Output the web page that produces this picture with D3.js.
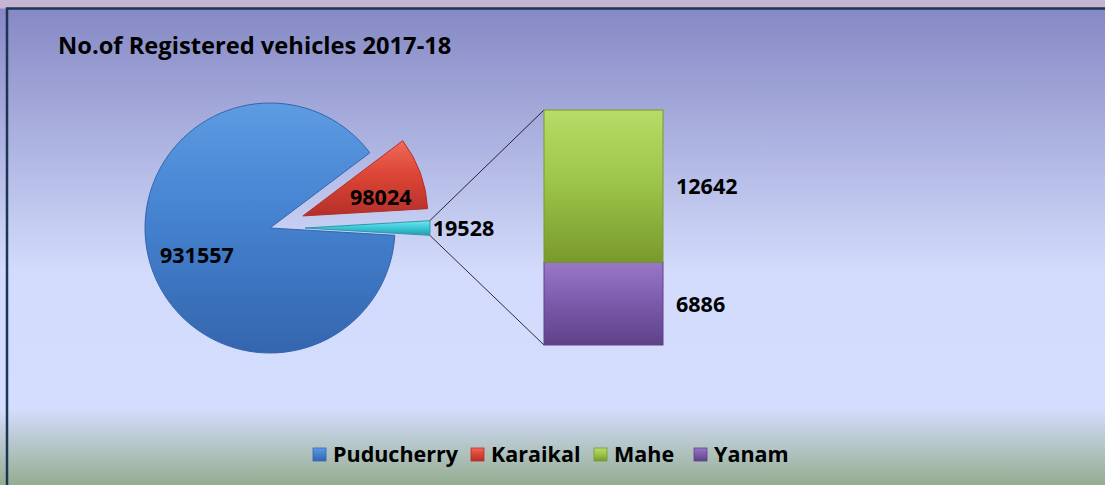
<!DOCTYPE html>
<html lang="en">
<head>
    <meta charset="UTF-8">
    <script src="https://d3js.org/d3.v7.min.js"></script>
    <title>Registered vehicles</title>
    <style>
        body { margin: 0; overflow: hidden; background: #c6b4d3; }
        text { font-family: "Open Sans", Lato, sans-serif; font-weight: bold; fill: #000; }
    </style>
</head>
<body>
<div id="chart"></div>
<script>
    // values
    const regions = ["Puducherry", "Karaikal", "Mahe", "Yanam"];
    const vehicles = [931557, 98024, 12642, 6886];
    const pieRegions = ["Karaikal", "Other", "Puducherry"];   // clockwise from the top
    const barRegions = ["Yanam", "Mahe"];                     // bottom to top in the bar
    const title = "No.of Registered vehicles 2017-18";

    const W = 1105, H = 485;
    const svg = d3.select("#chart").append("svg")
        .attr("width", W)
        .attr("height", H);

    const defs = svg.append("defs");

    // background gradient of the plot area
    const bg = defs.append("linearGradient").attr("id", "bg")
        .attr("gradientUnits", "userSpaceOnUse")
        .attr("x1", 0).attr("y1", 9).attr("x2", 0).attr("y2", H);
    bg.append("stop").attr("offset", "0%").attr("stop-color", "#8689c5");
    bg.append("stop").attr("offset", "55%").attr("stop-color", "#d2dbfb");
    bg.append("stop").attr("offset", "84%").attr("stop-color", "#d3ddfd");
    bg.append("stop").attr("offset", "100%").attr("stop-color", "#95ad90");

    const colors = {
        Puducherry: ["#5d9be2", "#4582d0", "#3466ae"],
        Karaikal: ["#f06a58", "#dc4535", "#b4302a"],
        Other: ["#7ee4ee", "#3ccbdb", "#2a9aaa"],
        Mahe: ["#b8dc66", "#9fc64c", "#789a2c"],
        Yanam: ["#9a78c8", "#7e5cae", "#5e4288"]
    };
    Object.entries(colors).forEach(([k, c]) => {
        const g = defs.append("linearGradient").attr("id", "g" + k)
            .attr("x1", 0).attr("y1", 0).attr("x2", 0).attr("y2", 1);
        g.append("stop").attr("offset", "0%").attr("stop-color", c[0]);
        g.append("stop").attr("offset", "45%").attr("stop-color", c[1]);
        g.append("stop").attr("offset", "100%").attr("stop-color", c[2]);
    });

    svg.append("rect").attr("x", 0).attr("y", 0).attr("width", W).attr("height", 8)
        .attr("fill", "#c6b4d3");
    svg.append("rect").attr("x", 0).attr("y", 8.5).attr("width", W).attr("height", H)
        .attr("fill", "url(#bg)");
    svg.append("path")
        .attr("d", `M7,${H}V8.5H${W}`)
        .attr("fill", "none")
        .attr("stroke", "#1d3552").attr("stroke-width", 2.5);

    svg.append("text")
        .attr("x", 58).attr("y", 54)
        .style("font-size", "23.7px")
        .text(title);

    // pie part
    const val = name => vehicles[regions.indexOf(name)];
    const otherTotal = d3.sum(barRegions, val);
    const pieData = pieRegions.map(n => ({ name: n, value: n === "Other" ? otherTotal : val(n) }));
    const total = d3.sum(pieData, d => d.value);
    const startA = Math.PI / 2 - 2 * Math.PI * (pieData[0].value + pieData[1].value / 2) / total;

    const pie = d3.pie().sort(null).value(d => d.value)
        .startAngle(startA).endAngle(startA + 2 * Math.PI);
    const R = 125, cx = 270, cy = 228, explode = 35;
    const arc = d3.arc().innerRadius(0).outerRadius(R);
    const arcs = pie(pieData);
    const shift = d => {
        if (d.data.name === "Puducherry") return [0, 0];
        const a = (d.startAngle + d.endAngle) / 2;
        return [Math.sin(a) * explode, -Math.cos(a) * explode];
    };

    const pieG = svg.append("g").attr("transform", `translate(${cx},${cy})`);
    pieG.selectAll("path")
        .data(arcs)
        .join("path")
        .attr("transform", d => `translate(${shift(d)})`)
        .attr("d", arc)
        .attr("fill", d => `url(#g${d.data.name})`)
        .attr("stroke", d => colors[d.data.name][2])
        .attr("stroke-width", 1);

    const otherArc = arcs.find(d => d.data.name === "Other");
    const os = shift(otherArc);

    // bar part
    const barX = 544, barW = 119;
    const y = d3.scaleLinear().domain([0, otherTotal]).range([345, 110]);
    let acc = 0;
    const stack = barRegions.map(n => {
        const s = { name: n, y0: acc, y1: acc + val(n), value: val(n) };
        acc += val(n);
        return s;
    });

    // connector lines from the "other" slice to the bar
    const tip = ang => [cx + os[0] + Math.sin(ang) * R, cy + os[1] - Math.cos(ang) * R];
    const tTop = tip(otherArc.startAngle), tBot = tip(otherArc.endAngle);
    svg.append("line")
        .attr("x1", tTop[0]).attr("y1", tTop[1])
        .attr("x2", barX).attr("y2", y(otherTotal))
        .attr("stroke", "#000").attr("stroke-width", 0.8);
    svg.append("line")
        .attr("x1", tBot[0]).attr("y1", tBot[1])
        .attr("x2", barX).attr("y2", y(0))
        .attr("stroke", "#000").attr("stroke-width", 0.8);

    svg.selectAll("rect.seg")
        .data(stack)
        .join("rect")
        .attr("class", "seg")
        .attr("x", barX)
        .attr("y", d => y(d.y1))
        .attr("width", barW)
        .attr("height", d => y(d.y0) - y(d.y1))
        .attr("fill", d => `url(#g${d.name})`)
        .attr("stroke", d => colors[d.name][2])
        .attr("stroke-width", 1);

    // data labels
    const fs = "21.5px";
    svg.append("text").attr("x", 160).attr("y", 263).style("font-size", fs)
        .text(val("Puducherry"));
    svg.append("text").attr("x", 350).attr("y", 205).style("font-size", fs)
        .text(val("Karaikal"));
    svg.append("text").attr("x", tTop[0] + 3).attr("y", 236).style("font-size", fs)
        .text(otherTotal);
    svg.selectAll("text.barlab")
        .data(stack)
        .join("text")
        .attr("class", "barlab")
        .attr("x", barX + barW + 13)
        .attr("y", d => (y(d.y0) + y(d.y1)) / 2 + 8)
        .style("font-size", fs)
        .text(d => d.value);

    // legend
    const legX = [313, 471, 594, 694];
    const leg = svg.selectAll("g.leg")
        .data(regions)
        .join("g")
        .attr("class", "leg")
        .attr("transform", (d, i) => `translate(${legX[i]},448)`);
    leg.append("rect")
        .attr("width", 13).attr("height", 13)
        .attr("fill", d => `url(#g${d})`)
        .attr("stroke", d => colors[d][2]).attr("stroke-width", 0.8);
    leg.append("text")
        .attr("x", 20).attr("y", 14)
        .style("font-size", fs)
        .text(d => d);
</script>
</body>
</html>
